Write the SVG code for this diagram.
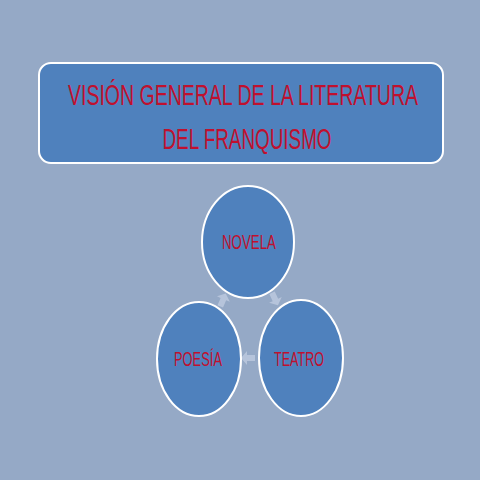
<svg xmlns="http://www.w3.org/2000/svg" width="480" height="480" viewBox="0 0 480 480">
<defs>
<style>
.node{fill:#4F81BD;stroke:#FFFFFF;stroke-width:2}
.lbl{font-family:"Liberation Sans",Arial,sans-serif;fill:#C0102E;text-anchor:middle}
.arr{fill:#BCC9DE;opacity:0.85}
</style>
<path id="ba" d="M-7,-3 L1,-3 L1,-7 L7,0 L1,7 L1,3 L-7,3 Z"/>
</defs>
<rect width="480" height="480" fill="#95A9C6"/>
<g id="title">
<rect class="node" x="39" y="63" width="404" height="100" rx="12"/>
<text class="lbl" x="243" y="105" font-size="29" textLength="350" lengthAdjust="spacingAndGlyphs">VISIÓN GENERAL DE LA LITERATURA</text>
<text class="lbl" x="247" y="149" font-size="29" textLength="169" lengthAdjust="spacingAndGlyphs">DEL FRANQUISMO</text>
</g>
<g id="connectors">
<use href="#ba" class="arr" transform="translate(223,300) rotate(-67)"/>
<use href="#ba" class="arr" transform="translate(275,299) rotate(65)"/>
<use href="#ba" class="arr" transform="translate(248,358) rotate(180)"/>
</g>
<g id="novela">
<ellipse class="node" cx="248" cy="242" rx="46" ry="56"/>
<text class="lbl" x="249" y="249" font-size="20" textLength="54" lengthAdjust="spacingAndGlyphs">NOVELA</text>
</g>
<g id="poesia">
<ellipse class="node" cx="199" cy="359" rx="42" ry="57"/>
<text class="lbl" x="198" y="366" font-size="20" textLength="48" lengthAdjust="spacingAndGlyphs">POESÍA</text>
</g>
<g id="teatro">
<ellipse class="node" cx="301" cy="358" rx="42" ry="58"/>
<text class="lbl" x="299" y="366" font-size="20" textLength="50" lengthAdjust="spacingAndGlyphs">TEATRO</text>
</g>
</svg>
